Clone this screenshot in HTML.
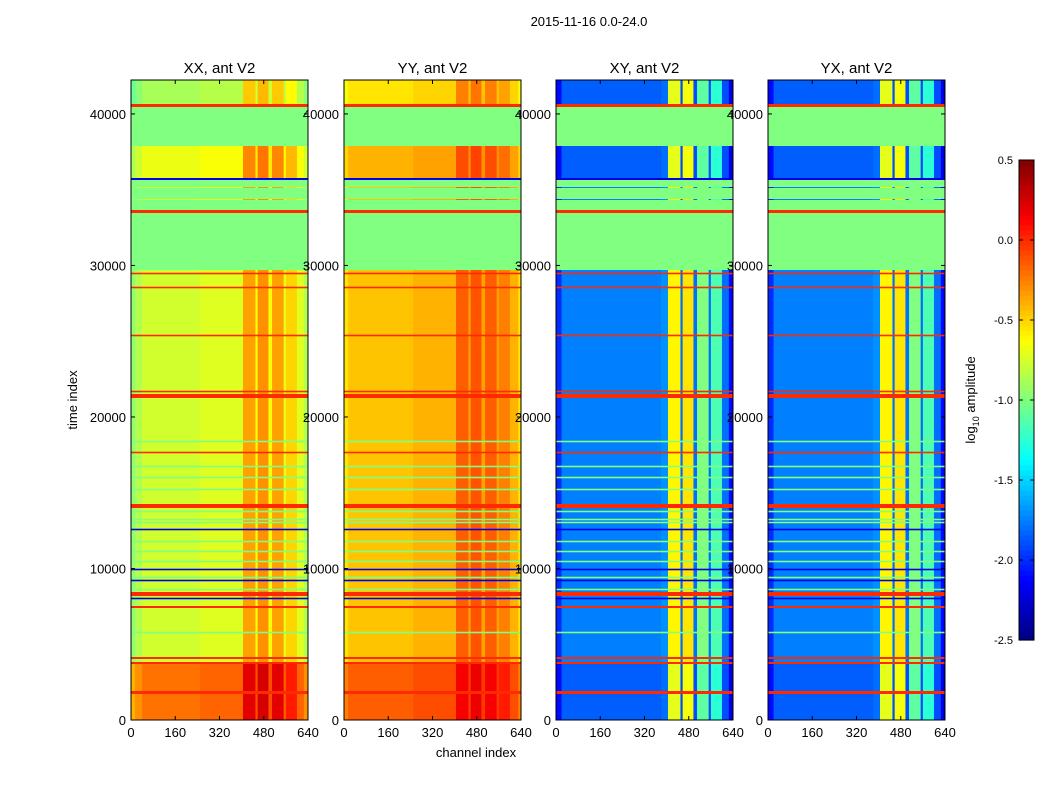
<!DOCTYPE html>
<html><head><meta charset="utf-8"><style>
body{margin:0;background:#fff;}
svg text{font-family:"Liberation Sans",sans-serif;fill:#000;}
</style></head><body>
<svg id="chart" width="1050" height="800" viewBox="0 0 1050 800" xmlns="http://www.w3.org/2000/svg">
<rect width="1050" height="800" fill="#fff"/>
<text x="589" y="26" font-size="13" text-anchor="middle">2015-11-16 0.0-24.0</text>
<text transform="translate(77,400) rotate(-90)" font-size="13" text-anchor="middle">time index</text>
<text x="476" y="757" font-size="13" text-anchor="middle">channel index</text>
<g id="panels"></g>
<g id="cbar"></g>
<text transform="translate(975,400) rotate(-90)" font-size="13" text-anchor="middle">log<tspan font-size="9" dy="4">10</tspan><tspan dy="-4"> amplitude</tspan></text>
</svg>
<script>
const panelTitles = ["XX, ant V2","YY, ant V2","XY, ant V2","YX, ant V2"];
const segStart = [0,1716,1914,3696,3828,4026,4158,5742,5808,7392,7524,7986,8052,8184,8448,8580,8646,9174,9240,9372,9438,9900,9966,10428,10494,11088,11154,11748,11814,12540,12606,13002,13068,13200,13266,13728,13794,13992,14256,15180,15246,15972,16038,16698,16764,17622,17688,18348,18414,21252,21516,21648,21714,25344,25410,28512,28578,29436,29502,29700,33462,33660,34320,34386,35112,35178,35640,35772,37884,40458,40656];
const segKind = ["d","r","d","r","d","r","d","g","d","r","d","b","d","r","d","g","d","b","d","g","d","b","d","g","d","g","d","g","d","b","d","g","d","g","d","g","d","r","d","g","d","g","d","g","d","r","d","g","d","r","d","r","d","r","d","r","d","r","d","g","r","g","d","g","d","g","b","d","g","r","d"];
const regionStart = [0,3696,35772,40656];
const regionOffXX = [0.55,0,0.08,-0.12];
const regionOffYY = [0.3,0,0.05,-0.1];
const regionOffXY = [-0.1,0,-0.1,-0.1];
const regionOffYX = [-0.1,0,-0.1,-0.1];
const chStartXX = [0,15,40,250,405,450,458,497,510,552,560,600,625];
const chValXX = [-0.95,-0.85,-0.76,-0.72,-0.35,-0.65,-0.3,-0.65,-0.35,-0.7,-0.5,-0.72,-0.85];
const chStartYY = [0,15,250,405,450,458,497,510,552,560,600,630];
const chValYY = [-0.55,-0.45,-0.4,-0.15,-0.35,-0.12,-0.35,-0.15,-0.35,-0.25,-0.4,-0.55];
const chStartXY = [0,20,380,405,450,458,497,510,552,560,600,625];
const chValXY = [-2.0,-1.75,-1.7,-0.6,-1.8,-0.55,-1.8,-1.0,-1.8,-1.15,-1.8,-2.1];
const chStartYX = [0,20,380,405,450,458,497,510,552,560,600,625];
const chValYX = [-2.0,-1.75,-1.7,-0.6,-1.8,-0.55,-1.8,-1.0,-1.8,-1.15,-1.8,-2.1];
const kindVal = {g:-1.0,r:0.0,b:-2.2};
const xTicks = [0,160,320,480,640];
const yTicks = [0,10000,20000,30000,40000];
const cbTicks = [0.5,0.0,-0.5,-1.0,-1.5,-2.0,-2.5];

const NS="http://www.w3.org/2000/svg";
const VMIN=-2.5,VMAX=0.5,TMAX=42240,CHMAX=640;
const panelX=[131,344,556,768],PW=177,PT=80,PB=720;
function jet(v){let t=(v-VMIN)/(VMAX-VMIN);t=Math.max(0,Math.min(1,t));
 const c=x=>Math.round(255*Math.max(0,Math.min(1,x)));
 return `rgb(${c(1.5-Math.abs(4*t-3))},${c(1.5-Math.abs(4*t-2))},${c(1.5-Math.abs(4*t-1))})`;}
function yS(t){return PB-t/TMAX*(PB-PT);}
function mk(tag,attrs,parent){const e=document.createElementNS(NS,tag);for(const k in attrs)e.setAttribute(k,attrs[k]);parent.appendChild(e);return e;}
const chS=[chStartXX,chStartYY,chStartXY,chStartYX],chV=[chValXX,chValYY,chValXY,chValYX],rOff=[regionOffXX,regionOffYY,regionOffXY,regionOffYX];
const root=document.getElementById('panels');
for(let p=0;p<4;p++){
 const x0=panelX[p];const xS=c=>x0+c/CHMAX*PW;
 const g=mk('g',{},root);
 
 
 const lines=[];
 for(let i=0;i<segStart.length;i++){
  const t0=segStart[i],t1=i+1<segStart.length?segStart[i+1]:TMAX;
  const ya=yS(t1),yb=yS(t0);
  const k=segKind[i];
  if(k!=='d'){lines.push([ya,yb,k]);continue;}
  let reg=0;for(let q=0;q<regionStart.length;q++)if(t0>=regionStart[q])reg=q;
  const cs=chS[p],cv=chV[p];
  for(let c=0;c<cs.length;c++){
   const c1=c+1<cs.length?cs[c+1]:CHMAX;
   const r=mk('rect',{x:xS(cs[c]),y:ya-0.3,width:xS(c1)-xS(cs[c])+0.4,height:yb-ya+0.6,fill:jet(cv[c]+rOff[p][reg])},g);
   
   
  }
 }
 lines.forEach(([ya,yb,k])=>{
  const h=Math.max(1.6,yb-ya);const yc=(ya+yb)/2;
  const r=mk('rect',{x:xS(0),y:yc-h/2,width:PW,height:h,fill:jet(kindVal[k])},g);
  
  
 });
 const fr=mk('rect',{x:x0,y:PT,width:PW,height:PB-PT,fill:'none',stroke:'#000','stroke-width':1},root);
 
 
 const tt=mk('text',{x:x0+PW/2,y:PT-7,'font-size':15,'text-anchor':'middle'},root);tt.textContent=panelTitles[p];
 
 
 xTicks.forEach(v=>{const x=xS(v);
  mk('line',{x1:x,x2:x,y1:PB,y2:PB-4,stroke:'#000'},root);mk('line',{x1:x,x2:x,y1:PT,y2:PT+4,stroke:'#000'},root);
  const l=mk('text',{x:x,y:PB+17,'font-size':13,'text-anchor':'middle'},root);l.textContent=v;
  
  });
 yTicks.forEach(v=>{const y=yS(v);
  mk('line',{x1:x0,x2:x0+4,y1:y,y2:y,stroke:'#000'},root);mk('line',{x1:x0+PW,x2:x0+PW-4,y1:y,y2:y,stroke:'#000'},root);
  const l=mk('text',{x:x0-5,y:y+5,'font-size':13,'text-anchor':'end'},root);l.textContent=v;
  
  });
}
const cb=document.getElementById('cbar');
const CX=1019,CW=15,CT=160,CB=640;
for(let i=0;i<96;i++){const v0=VMIN+(VMAX-VMIN)*i/96,v1=VMIN+(VMAX-VMIN)*(i+1)/96;
 const yb=CB-(v0-VMIN)/(VMAX-VMIN)*(CB-CT),ya=CB-(v1-VMIN)/(VMAX-VMIN)*(CB-CT);
 const r=mk('rect',{x:CX,y:ya,width:CW,height:yb-ya+0.6,fill:jet((v0+v1)/2)},cb);
 
 }
mk('rect',{x:CX,y:CT,width:CW,height:CB-CT,fill:'none',stroke:'#000'},cb);
cbTicks.forEach(v=>{const y=CB-(v-VMIN)/(VMAX-VMIN)*(CB-CT);
 mk('line',{x1:CX,x2:CX+4,y1:y,y2:y,stroke:'#000'},cb);
 mk('line',{x1:CX+CW-4,x2:CX+CW,y1:y,y2:y,stroke:'#000'},cb);
 const l=mk('text',{x:CX-6,y:y+4,'font-size':11,'text-anchor':'end'},cb);l.textContent=v.toFixed(1);
 
 });
</script>
</body></html>
